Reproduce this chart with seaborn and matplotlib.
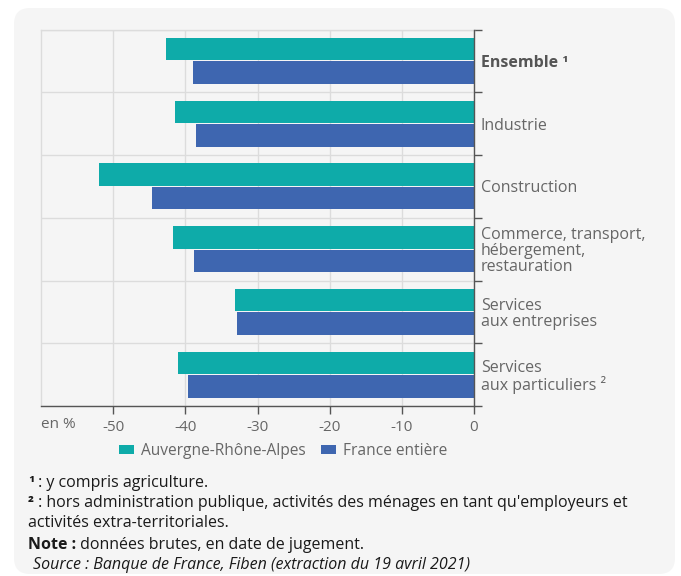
import matplotlib.pyplot as plt
import numpy as np
import pandas as pd
import seaborn as sns
from matplotlib.patches import FancyBboxPatch


secteurs = [
    "Ensemble \u00b9",
    "Industrie",
    "Construction",
    "Commerce, transport,\nhébergement,\nrestauration",
    "Services\naux entreprises",
    "Services\naux particuliers \u00b2",
]
zones = ["Auvergne-Rhône-Alpes", "France entière"]
valeurs_ara = [-42.7, -41.4, -51.9, -41.7, -33.1, -41.0]
valeurs_france = [-38.9, -38.5, -44.6, -38.8, -32.8, -39.6]
x_ticks = [-50, -40, -30, -20, -10, 0]

couleurs = ["#0eaba9", "#3e66b0"]
gris_texte = "#666666"
gris_grille = "#dcdcdc"
gris_axe = "#555555"

sns.set_style("white")
plt.rcParams["font.family"] = ["Open Sans", "DejaVu Sans"]
plt.rcParams["axes.unicode_minus"] = False

df = pd.DataFrame(
    {
        "secteur": secteurs * 2,
        "zone": [zones[0]] * len(secteurs) + [zones[1]] * len(secteurs),
        "valeur": valeurs_ara + valeurs_france,
    }
)

fig = plt.figure(figsize=(6.81, 5.76), dpi=100)
fig.patch.set_facecolor("white")

# fond gris arrondi
panel = FancyBboxPatch(
    (0.14, 0.02),
    6.61,
    5.66,
    boxstyle="round,pad=0,rounding_size=0.16",
    transform=fig.dpi_scale_trans,
    facecolor="#f5f5f5",
    edgecolor="none",
    zorder=-10,
)
fig.add_artist(panel)

ax = fig.add_axes([41 / 681, 1 - 406 / 576, (474 - 41) / 681, (406 - 29.5) / 576])
ax.set_facecolor("none")

sns.barplot(
    data=df,
    x="valeur",
    y="secteur",
    hue="zone",
    hue_order=zones,
    order=secteurs,
    palette=couleurs,
    orient="h",
    width=0.75,
    gap=0.05,
    saturation=1,
    linewidth=0,
    ax=ax,
    zorder=3,
)

ax.set_xlim(-60, 0)
ax.set_ylim(5.5, -0.5)
ax.set_xlabel("")
ax.set_ylabel("")

ax.set_xticks(x_ticks)
ax.set_xticklabels([str(v) for v in x_ticks])
ax.tick_params(axis="x", length=6, width=1, color=gris_axe, labelcolor=gris_texte,
               labelsize=11, pad=4, bottom=True)

ax.yaxis.tick_right()
ax.set_yticks(range(len(secteurs)))
ax.set_yticklabels(secteurs, linespacing=1.0)
ax.tick_params(axis="y", which="major", length=0, labelcolor=gris_texte, labelsize=11.5, pad=5)
ax.set_yticks(np.arange(-0.5, len(secteurs), 1), minor=True)
ax.tick_params(axis="y", which="minor", length=6, width=1, color=gris_axe,
               right=True, left=False)
ax.get_yticklabels()[0].set_fontweight("bold")
ax.get_yticklabels()[0].set_color(gris_axe)

ax.grid(which="major", axis="x", color=gris_grille, linewidth=1, zorder=0)
ax.grid(which="minor", axis="y", color=gris_grille, linewidth=1, zorder=0)
ax.grid(which="major", axis="y", visible=False)
ax.set_axisbelow(True)

for side in ["left", "top"]:
    ax.spines[side].set_color(gris_grille)
    ax.spines[side].set_linewidth(1)
for side in ["right", "bottom"]:
    ax.spines[side].set_color(gris_axe)
    ax.spines[side].set_linewidth(1)
    ax.spines[side].set_zorder(5)

ax.text(0, -0.03, "en %", transform=ax.transAxes, ha="left", va="top",
        fontsize=11, color=gris_texte)

handles, labels = ax.get_legend_handles_labels()
ax.get_legend().remove()
fig.legend(
    handles,
    labels,
    loc="center",
    bbox_to_anchor=(283 / 681, 1 - 451 / 576),
    ncol=2,
    frameon=False,
    fontsize=11.2,
    labelcolor=gris_texte,
    handlelength=0.95,
    handleheight=0.5,
    handletextpad=0.45,
    columnspacing=1.0,
)

# notes de bas de graphique
x0 = 28 / 681
taille = 11.5


def ligne(y_px, gras, normal):
    y = 1 - y_px / 576
    t1 = fig.text(x0, y, gras, fontsize=taille, fontweight="bold", color="#1a1a1a", va="center")
    ax.annotate(normal, xy=(1, 0.5), xycoords=t1, va="center", ha="left",
                fontsize=taille, color="#1a1a1a", annotation_clip=False)


ligne(483, "\u00b9", " : y compris agriculture.")
ligne(503, "\u00b2", " : hors administration publique, activités des ménages en tant qu'employeurs et")
fig.text(x0, 1 - 523 / 576, "activités extra-territoriales.", fontsize=taille, color="#1a1a1a", va="center")
ligne(545, "Note :", " données brutes, en date de jugement.")
fig.text(33 / 681, 1 - 565 / 576, "Source : Banque de France, Fiben (extraction du 19 avril 2021)",
         fontsize=taille, fontstyle="italic", color="#1a1a1a", va="center")

fig.savefig("out.png", dpi=100)
